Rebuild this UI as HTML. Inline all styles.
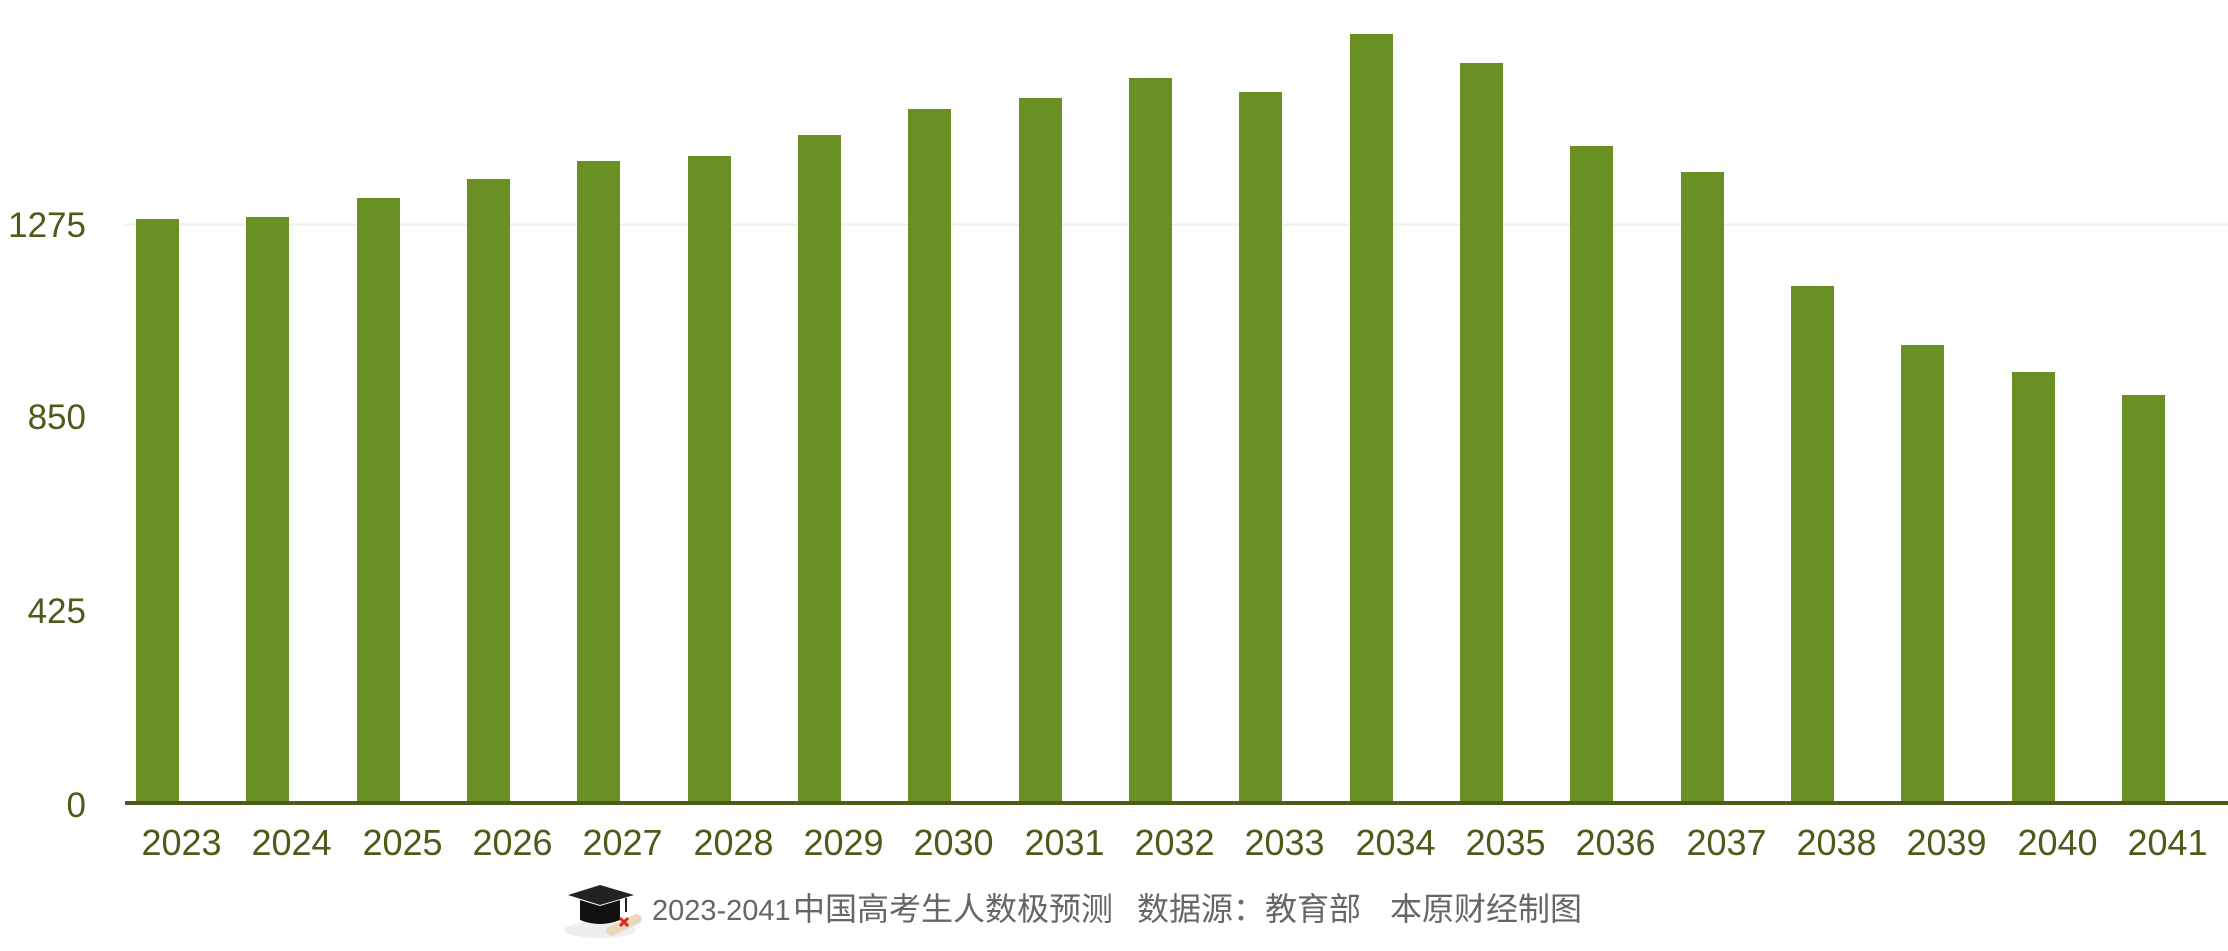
<!DOCTYPE html>
<html><head><meta charset="utf-8"><style>
html,body{margin:0;padding:0;background:#fff;}
body{width:2228px;height:951px;overflow:hidden;position:relative;}
</style></head><body>
<svg width="2228" height="951" xmlns="http://www.w3.org/2000/svg" style="position:absolute;left:0;top:0">
<line x1="125" y1="224.5" x2="2228" y2="224.5" stroke="#eef0e8" stroke-width="2"/>
<g fill="#6a9023">
<rect x="136" y="219" width="43" height="584"/>
<rect x="246" y="217" width="43" height="586"/>
<rect x="357" y="198" width="43" height="605"/>
<rect x="467" y="179" width="43" height="624"/>
<rect x="577" y="161" width="43" height="642"/>
<rect x="688" y="156" width="43" height="647"/>
<rect x="798" y="135" width="43" height="668"/>
<rect x="908" y="109" width="43" height="694"/>
<rect x="1019" y="98" width="43" height="705"/>
<rect x="1129" y="78" width="43" height="725"/>
<rect x="1239" y="92" width="43" height="711"/>
<rect x="1350" y="34" width="43" height="769"/>
<rect x="1460" y="63" width="43" height="740"/>
<rect x="1570" y="146" width="43" height="657"/>
<rect x="1681" y="172" width="43" height="631"/>
<rect x="1791" y="286" width="43" height="517"/>
<rect x="1901" y="345" width="43" height="458"/>
<rect x="2012" y="372" width="43" height="431"/>
<rect x="2122" y="395" width="43" height="408"/>
</g>
<line x1="125" y1="803" x2="2228" y2="803" stroke="#4d5a1a" stroke-width="4"/>
<g font-family="Liberation Sans, sans-serif" font-size="35" fill="#4d5a1a" text-anchor="end">
<text x="86" y="237">1275</text>
<text x="86" y="429">850</text>
<text x="86" y="623">425</text>
<text x="86" y="817">0</text>
</g>
<g font-family="Liberation Sans, sans-serif" font-size="36" fill="#4d5a1a" text-anchor="middle" transform="translate(24,0)">
<text x="157.5" y="855">2023</text><text x="267.5" y="855">2024</text><text x="378.5" y="855">2025</text>
<text x="488.5" y="855">2026</text><text x="598.5" y="855">2027</text><text x="709.5" y="855">2028</text>
<text x="819.5" y="855">2029</text><text x="929.5" y="855">2030</text><text x="1040.5" y="855">2031</text>
<text x="1150.5" y="855">2032</text><text x="1260.5" y="855">2033</text><text x="1371.5" y="855">2034</text>
<text x="1481.5" y="855">2035</text><text x="1591.5" y="855">2036</text><text x="1702.5" y="855">2037</text>
<text x="1812.5" y="855">2038</text><text x="1922.5" y="855">2039</text><text x="2033.5" y="855">2040</text>
<text x="2143.5" y="855">2041</text>
</g>
<g>
<ellipse cx="600" cy="930" rx="36" ry="8" fill="#eee"/>
<path d="M568 895 L600 885 L634 895 L600 905 Z" fill="#222"/>
<path d="M580 900 L580 920 Q600 928 620 920 L620 900 L600 906 Z" fill="#111"/>
<line x1="626" y1="898" x2="626" y2="912" stroke="#222" stroke-width="2"/>
<rect x="605" y="920" width="38" height="10" rx="5" fill="#e8d9b8" transform="rotate(-25 624 925)"/>
<path d="M620 918 l8 8 M628 918 l-8 8" stroke="#d22" stroke-width="3"/>
</g>
<g font-family="Liberation Sans, Noto Sans CJK SC, sans-serif" fill="#666">
<text x="652" y="920" font-size="29">2023-2041</text>
<text x="793" y="920" font-size="32" font-family="Noto Sans CJK SC, sans-serif">中国高考生人数极预测</text>
<text x="1137" y="920" font-size="32" font-family="Noto Sans CJK SC, sans-serif">数据源：教育部</text>
<text x="1390" y="920" font-size="32" font-family="Noto Sans CJK SC, sans-serif">本原财经制图</text>
</g>
</svg>
</body></html>
